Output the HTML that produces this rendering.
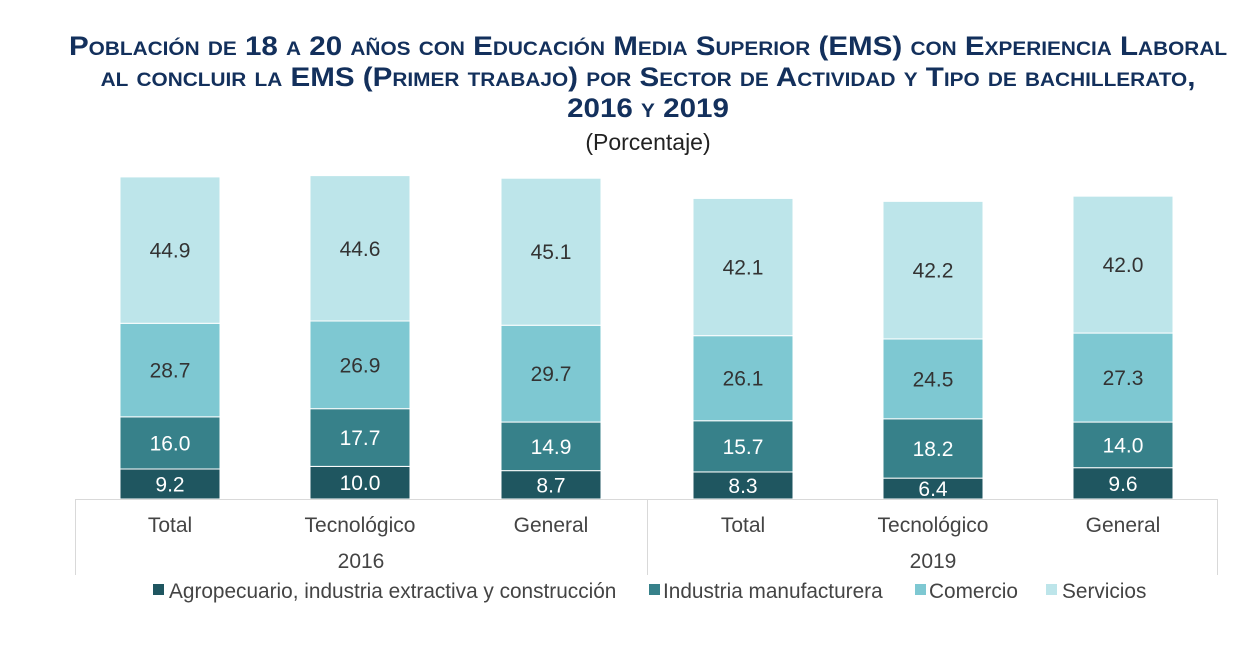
<!DOCTYPE html>
<html><head><meta charset="utf-8"><style>
body{margin:0;background:#fff;width:1242px;height:651px;overflow:hidden;font-family:"Liberation Sans",sans-serif}
.t{position:absolute;left:0;width:1296px;text-align:center;color:#13305c;font-weight:bold;font-variant:small-caps;font-size:27px;line-height:31px;top:31px;transform:scaleX(1.095);transform-origin:648px 0}
.p{position:absolute;left:0;width:1296px;text-align:center;color:#222;font-size:23px;top:129px}
</style></head><body>
<div class="t">Población de 18 a 20 años con Educación Media Superior (EMS) con Experiencia Laboral<br>al concluir la EMS (Primer trabajo) por Sector de Actividad y Tipo de bachillerato,<br>2016 y 2019</div>
<div class="p">(Porcentaje)</div>
<svg width="1242" height="651" style="position:absolute;left:0;top:0" font-family="Liberation Sans, sans-serif">
<g id="bars"></g>
<line x1="75" y1="499.5" x2="1218" y2="499.5" stroke="#d9d9d9"/>
<line x1="75.5" y1="499" x2="75.5" y2="575" stroke="#d9d9d9"/>
<line x1="647.5" y1="499" x2="647.5" y2="575" stroke="#d9d9d9"/>
<line x1="1217.5" y1="499" x2="1217.5" y2="575" stroke="#d9d9d9"/>
<g font-size="21" fill="#444" text-anchor="middle">
<text x="170" y="532">Total</text><text x="360" y="532">Tecnológico</text><text x="551" y="532">General</text>
<text x="743" y="532">Total</text><text x="933" y="532">Tecnológico</text><text x="1123" y="532">General</text>
<text x="361" y="568">2016</text><text x="933" y="568">2019</text>
</g>
<g font-size="20.8" fill="#444">
<rect x="153" y="584" width="11" height="11" fill="#1f5660"/><text x="169" y="598">Agropecuario, industria extractiva y construcción</text>
<rect x="649" y="584" width="11" height="11" fill="#37818a"/><text x="663" y="598">Industria manufacturera</text>
<rect x="915" y="584" width="11" height="11" fill="#7ec8d2"/><text x="929" y="598">Comercio</text>
<rect x="1046" y="584" width="11" height="11" fill="#bde5ea"/><text x="1062" y="598">Servicios</text>
</g>
</svg>
<script>
var d=[[9.2,16.0,28.7,44.9],[10.0,17.7,26.9,44.6],[8.7,14.9,29.7,45.1],[8.3,15.7,26.1,42.1],[6.4,18.2,24.5,42.2],[9.6,14.0,27.3,42.0]];
var cx=[170,360,551,743,933,1123],col=["#1f5660","#37818a","#7ec8d2","#bde5ea"],tc=["#fff","#fff","#333","#333"];
var s=3.26,h="";
d.forEach(function(b,i){var y=499;b.forEach(function(v,j){var hh=v*s;y-=hh;
h+='<rect x="'+(cx[i]-50)+'" y="'+y+'" width="100" height="'+hh+'" fill="'+col[j]+'" stroke="#fff" stroke-width="1"/>';
h+='<text x="'+cx[i]+'" y="'+(y+hh/2+7.5)+'" text-anchor="middle" font-size="21" fill="'+tc[j]+'">'+v.toFixed(1)+'</text>';});});
document.getElementById("bars").innerHTML=h;
</script>
</body></html>
